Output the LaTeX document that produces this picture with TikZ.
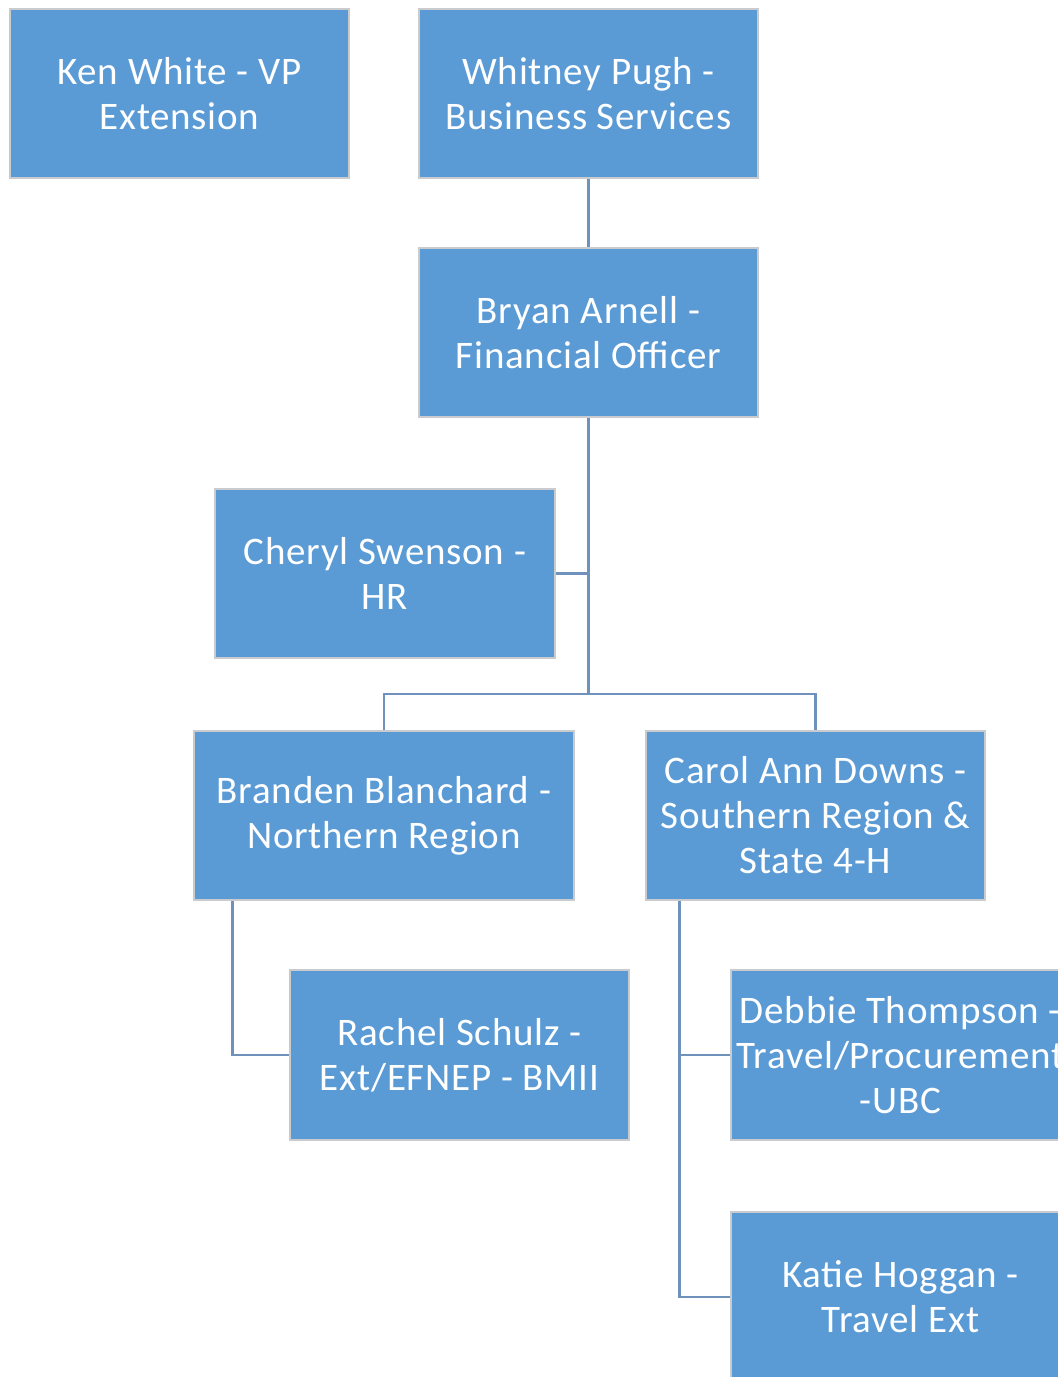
\documentclass[tikz,border=0pt]{standalone}
\usepackage{fontspec}
\setmainfont{Carlito}[LetterSpace=2.0]
\definecolor{boxblue}{HTML}{5B9BD5}
\definecolor{boxedge}{HTML}{C9CBCE}
\definecolor{linkblue}{HTML}{6F92BC}
\tikzset{staff/.style={fill=boxblue, draw=boxedge, line width=1.5pt, text=white, align=center, inner sep=0pt, minimum width=339pt, minimum height=169pt, font=\fontsize{39}{45}\selectfont},
 link/.style={linkblue, line width=2.6pt}}

\begin{document}
\begin{tikzpicture}[x=1pt,y=-1pt]
  \useasboundingbox (0,0) rectangle (1058,1377);
  \node[staff] (ken) at (179.5,93.5) {Ken White - VP\\Extension};
  \node[staff] (whitney) at (588.5,93.5) {Whitney Pugh -\\Business Services};
  \node[staff] (bryan) at (588.5,332.5) {Bryan Arnell -\\Financial Officer};
  \node[staff,minimum width=340pt] (cheryl) at (385,573.5) {Cheryl Swenson -\\HR};
  \node[staff,minimum width=380pt] (branden) at (384,815.5) {Branden Blanchard -\\Northern Region};
  \node[staff] (carol) at (815.5,815.5) {Carol Ann Downs -\\Southern Region \&\\State 4-H};
  \node[staff,minimum height=170pt] (rachel) at (459.5,1055) {Rachel Schulz -\\Ext/EFNEP - BMII};
  \node[staff,minimum height=170pt] (debbie) at (900.5,1055) {Debbie Thompson -\\Travel/Procurement\\-UBC};
  \node[staff,minimum height=170pt] (katie) at (900.5,1297) {Katie Hoggan -\\Travel Ext};
  \coordinate (split) at (588.5,694);
  \coordinate (northspine) at ([xshift=39pt]branden.south west);
  \coordinate (southspine) at ([xshift=34pt]carol.south west);
  \draw[link] (whitney) -- (bryan);
  \draw[link] (bryan) -- (split);
  \draw[link] (cheryl.east) -- (cheryl.east -| split);
  \draw[link] (branden.north) |- (split) -| (carol.north);
  \draw[link] (northspine) |- (rachel.west);
  \draw[link] (southspine) |- (katie.west);
  \draw[link] (southspine |- debbie.west) -- (debbie.west);
\end{tikzpicture}
\end{document}
